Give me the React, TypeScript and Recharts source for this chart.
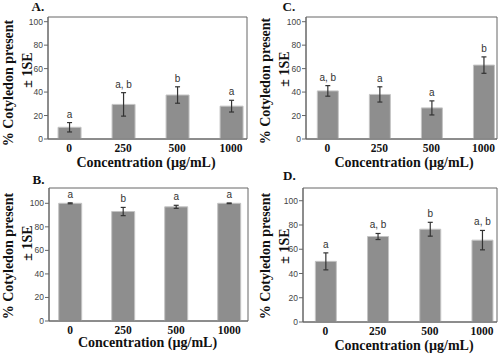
import { Bar, BarChart, ErrorBar, LabelList, ReferenceArea, XAxis, YAxis } from 'recharts'

const categories = ['0', '250', '500', '1000']

const meansA = [10, 29.5, 37.5, 28]
const errorsA = [4, 10, 7, 5]
const lettersA = ['a', 'a, b', 'b', 'a']

const meansB = [100, 93, 97, 100]
const errorsB = [0.4, 3.5, 1.3, 0.3]
const lettersB = ['a', 'b', 'a', 'a']

const meansC = [41, 38, 26.5, 63]
const errorsC = [4.5, 6.5, 6, 7]
const lettersC = ['a, b', 'a', 'a', 'b']

const meansD = [50, 70.5, 76.5, 67.5]
const errorsD = [7, 2.5, 5.7, 8]
const lettersD = ['a', 'a, b', 'b', 'a, b']

const yTicks = [0, 20, 40, 60, 80, 100]

const SERIF = '"Liberation Serif", "Times New Roman", serif'
const SANS = '"Liberation Sans", Arial, sans-serif'
const AXIS = '#666'

interface Row {
  i: number
  mean: number
  err: number
  letter: string
}

function rows(means: number[], errs: number[], letters: string[]): Row[] {
  return means.map((m, i) => ({ i, mean: m, err: errs[i], letter: letters[i] }))
}

interface PanelProps {
  data: Row[]
  left: number
  top: number
  width: number
  height: number
  marginTop: number
  marginRight: number
  yAxisWidth: number
  xAxisHeight: number
  xDomain: [number, number]
  yMax: number
  barSize: number
}

function Panel(p: PanelProps) {
  const renderLetter = (props: any) => {
    const { x, y, width, height, index, value } = props
    const row = p.data[index]
    if (!row) return null
    const scale = row.mean ? height / row.mean : 0
    const top = y - row.err * scale
    return (
      <text
        x={x + width / 2}
        y={top - 5}
        textAnchor="middle"
        fontFamily={SANS}
        fontSize={10}
        fill="#333"
      >
        {value}
      </text>
    )
  }

  return (
    <div style={{ position: 'absolute', left: p.left, top: p.top }}>
      <BarChart
        width={p.width}
        height={p.height}
        data={p.data}
        margin={{ top: p.marginTop, right: p.marginRight, left: 0, bottom: 0 }}
      >
        <XAxis
          dataKey="i"
          type="number"
          domain={p.xDomain}
          ticks={[0, 1, 2, 3]}
          tickFormatter={(v: number) => categories[v]}
          height={p.xAxisHeight}
          tickLine={false}
          tickSize={5}
          tickMargin={0}
          axisLine={{ stroke: AXIS }}
          tick={{ fontFamily: SERIF, fontWeight: 'bold', fontSize: 11.5, fill: '#111' }}
          allowDataOverflow
        />
        <YAxis
          type="number"
          domain={[0, p.yMax]}
          ticks={yTicks}
          width={p.yAxisWidth}
          tickSize={4}
          tickMargin={1}
          tickLine={{ stroke: AXIS }}
          axisLine={{ stroke: AXIS }}
          tick={{ fontFamily: SANS, fontSize: 8.5, fill: '#444' }}
          allowDataOverflow
        />
        <ReferenceArea
          x1={p.xDomain[0]}
          x2={p.xDomain[1]}
          y1={0}
          y2={p.yMax}
          fill="none"
          stroke={AXIS}
          strokeWidth={1}
          ifOverflow="visible"
        />
        <Bar
          dataKey="mean"
          fill="#8e8e8e"
          stroke="#c4c4c4"
          strokeWidth={1}
          barSize={p.barSize}
          isAnimationActive={false}
        >
          <ErrorBar
            dataKey="err"
            width={2.5}
            stroke="#333"
            strokeWidth={1.2}
            direction="y"
            isAnimationActive={false}
          />
          <LabelList dataKey="letter" content={renderLetter} />
        </Bar>
      </BarChart>
    </div>
  )
}

const titleStyle = { fontFamily: SERIF, fontWeight: 'bold' as const, fill: '#111' }

function YTitle({ x1, y1, x2, y2 }: { x1: number; y1: number; x2: number; y2: number }) {
  return (
    <>
      <text
        x={x1}
        y={y1}
        transform={`rotate(-90 ${x1} ${y1})`}
        textAnchor="middle"
        dominantBaseline="central"
        fontSize={14}
        {...titleStyle}
      >
        % Cotyledon present
      </text>
      <text
        x={x2}
        y={y2}
        transform={`rotate(-90 ${x2} ${y2})`}
        textAnchor="middle"
        dominantBaseline="central"
        fontSize={14}
        {...titleStyle}
      >
        ± 1SE
      </text>
    </>
  )
}

function XTitle({ x, y }: { x: number; y: number }) {
  return (
    <text x={x} y={y} textAnchor="middle" fontSize={14} {...titleStyle}>
      Concentration (µg/mL)
    </text>
  )
}

export default function App() {
  return (
    <div
      style={{
        position: 'absolute',
        left: 0,
        top: 0,
        width: 500,
        height: 354,
        background: '#fff',
        overflow: 'hidden',
      }}
    >
      <Panel
        data={rows(meansA, errorsA, lettersA)}
        left={0}
        top={0}
        width={250}
        height={175}
        marginTop={17}
        marginRight={3}
        yAxisWidth={48}
        xAxisHeight={36}
        xDomain={[-0.39, 3.295]}
        yMax={104}
        barSize={23}
      />
      <Panel
        data={rows(meansC, errorsC, lettersC)}
        left={250}
        top={0}
        width={250}
        height={175}
        marginTop={17}
        marginRight={3}
        yAxisWidth={56}
        xAxisHeight={36}
        xDomain={[-0.41, 3.26]}
        yMax={104}
        barSize={21}
      />
      <Panel
        data={rows(meansB, errorsB, lettersB)}
        left={0}
        top={175}
        width={250}
        height={179}
        marginTop={13}
        marginRight={2}
        yAxisWidth={49}
        xAxisHeight={33}
        xDomain={[-0.4, 3.355]}
        yMax={113}
        barSize={23}
      />
      <Panel
        data={rows(meansD, errorsD, lettersD)}
        left={250}
        top={175}
        width={250}
        height={179}
        marginTop={13}
        marginRight={3}
        yAxisWidth={53}
        xAxisHeight={32}
        xDomain={[-0.43, 3.286]}
        yMax={110.5}
        barSize={21}
      />
      <svg
        width={500}
        height={354}
        style={{ position: 'absolute', left: 0, top: 0, pointerEvents: 'none' }}
      >
        <text x={31.5} y={11} fontSize={13} {...titleStyle}>A.</text>
        <text x={282.5} y={11} fontSize={13} {...titleStyle}>C.</text>
        <text x={32.5} y={183.5} fontSize={13} {...titleStyle}>B.</text>
        <text x={283} y={180} fontSize={13} {...titleStyle}>D.</text>

        <YTitle x1={8} y1={83} x2={27} y2={70} />
        <YTitle x1={265} y1={81} x2={284} y2={69} />
        <YTitle x1={8} y1={256} x2={27} y2={243} />
        <YTitle x1={265} y1={256} x2={284} y2={246} />

        <XTitle x={146} y={166.5} />
        <XTitle x={404} y={166.5} />
        <XTitle x={147.5} y={347} />
        <XTitle x={404} y={350} />
      </svg>
    </div>
  )
}
